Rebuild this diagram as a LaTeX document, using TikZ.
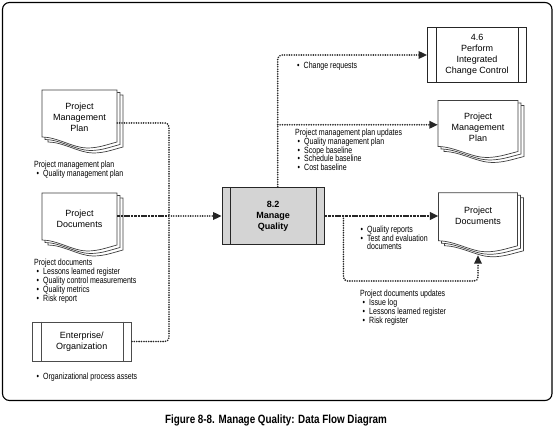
\documentclass[tikz,border=0pt]{standalone}
\usepackage{fontspec}
\setmainfont{Liberation Sans}
\newfontfamily\condfont{Liberation Sans}[FakeStretch=0.78]
\newfontfamily\capfont{Liberation Sans}[FakeStretch=0.82]
\usetikzlibrary{arrows.meta,calc}
\newcommand\lblfont{\condfont\fontsize{9}{8.9}\selectfont\lineskiplimit=-6pt\relax}
\newcommand\bul{\hspace*{2.5pt}\makebox[6.5pt][l]{\textbullet}}
\newcommand\ind{\hspace*{9pt}}
\newcommand\docpage[4]{%
  \filldraw[docline] ({#1},{#2+#4-11}) -- ({#1},{#2}) -- ({#1+#3},{#2}) -- ({#1+#3},{#2+#4-6})
    .. controls ({#1+0.85*#3},{#2+#4-3}) and ({#1+0.75*#3},{#2+#4}) .. ({#1+0.6*#3},{#2+#4})
    .. controls ({#1+0.42*#3},{#2+#4}) and ({#1+0.2*#3},{#2+#4-11}) .. ({#1},{#2+#4-11}) -- cycle;}
\newcommand\docstack[4]{\docpage{#1+6}{#2+5}{#3}{#4}\docpage{#1+3}{#2+2.5}{#3}{#4}\docpage{#1}{#2}{#3}{#4}}
\begin{document}
\begin{tikzpicture}[x=1pt,y=-1pt,
  docline/.style={draw=black!75, fill=white, line width=0.7pt},
  docnode/.style={minimum height=40pt, inner sep=0pt, align=center, font=\fontsize{9}{11}\selectfont},
  procbox/.style={draw=black!85, line width=0.8pt, inner sep=0pt, align=center, font=\fontsize{9}{11}\selectfont},
  flow/.style={draw=black!85, line width=1.8pt, dash pattern=on 0pt off 2.4pt, line cap=round, rounded corners=4pt},
  heavy/.style={draw=black!85, line width=2.6pt, dash pattern=on 2.6pt off 0.8pt},
  arrowend/.style={-{Triangle[length=8.5pt,width=7.5pt]}},
  lbl/.style={font=\lblfont, align=left, inner sep=0pt, anchor=north west},
]
\useasboundingbox (0,0) rectangle (554,435);
\fill[white] (0,0) rectangle (554,435);
\draw[line width=1.1pt, rounded corners=7pt] (2.5,2.5) rectangle (552,400.5);

% documents
\docstack{42}{90}{75}{58}
\docstack{42}{193}{75}{58}
\docstack{438}{100.5}{80}{57}
\docstack{438.5}{192.8}{79}{59}

\node[docnode, minimum width=75pt] (pmpin) at (79.5,117) {Project\\Management\\Plan};
\node[docnode, minimum width=75pt] (pdin) at (79.5,219) {Project\\Documents};
\node[docnode, minimum width=80pt] (pmpout) at (478,127.5) {Project\\Management\\Plan};
\node[docnode, minimum width=79pt] (pdout) at (478,216) {Project\\Documents};

% process boxes
\node[procbox, fill=black!17, minimum width=102.4pt, minimum height=57.6pt, font=\bfseries\fontsize{9}{11}\selectfont] (mq) at (273.2,216) {8.2\\Manage\\Quality};
\draw[black!85, line width=0.8pt] ([xshift=9pt]mq.north west) -- ([xshift=9pt]mq.south west)
  ([xshift=-8.4pt]mq.north east) -- ([xshift=-8.4pt]mq.south east);
\node[procbox, minimum width=99pt, minimum height=55pt] (p46) at (477,55) {4.6\\Perform\\Integrated\\Change Control};
\draw[black!85, line width=0.8pt] ([xshift=9.3pt]p46.north west) -- ([xshift=9.3pt]p46.south west)
  ([xshift=-8.2pt]p46.north east) -- ([xshift=-8.2pt]p46.south east);
\node[procbox, draw=black!70, minimum width=99.5pt, minimum height=39pt] (ent) at (81.75,341.5) {Enterprise/\\Organization};
\draw[black!70, line width=0.8pt] ([xshift=9.7pt]ent.north west) -- ([xshift=9.7pt]ent.south west)
  ([xshift=-9pt]ent.north east) -- ([xshift=-9pt]ent.south east);

% input connectors
\coordinate (jin) at (169,216);
\draw[flow] ($(pmpin.east)+(0,6)$) -| (jin);
\draw[flow] (ent.east) -| (jin);
\draw[heavy] ($(pdin.east)+(0,-3)$) -- (jin);
\draw[flow,arrowend] (jin) -- (mq.west);

% output connectors
\coordinate (bus) at ($(mq.north)+(4.5,0)$);
\draw[flow,arrowend] (bus) |- (p46.west);
\draw[flow,arrowend] (bus |- 0,124.8) -- ($(pmpout.west)+(0,-2.7)$);
\draw[heavy,arrowend] (mq.east) -- (mq.east -| pdout.west);
\coordinate (br) at ($(mq.east)+(18.6,0)$);
\draw[flow,arrowend] (br) -- ++(0,65) -| ($(pdout.south)+(0,19)$);

% labels
\node[lbl] (l1) at (34,160.7) {Project management plan\\\bul Quality management plan};
\node[lbl] (l2) at (34,258.7) {Project documents\\\bul Lessons learned register\\\bul Quality control measurements\\\bul Quality metrics\\\bul Risk report};
\node[lbl] (l3) at (34,372.7) {\bul Organizational process assets};
\node[lbl] (l4) at (294.5,62) {\bul Change requests};
\node[lbl] (l5) at (295,128.5) {Project management plan updates\\\bul Quality management plan\\\bul Scope baseline\\\bul Schedule baseline\\\bul Cost baseline};
\node[lbl] (l6) at (358,225.4) {\bul Quality reports\\\bul Test and evaluation\\\ind documents};
\node[lbl] (l7) at (360,289.7) {Project documents updates\\\bul Issue log\\\bul Lessons learned register\\\bul Risk register};

\node[font=\capfont\bfseries\fontsize{12}{14}\selectfont, inner sep=0pt] (cap) at (276,420) {Figure 8-8. Manage Quality: Data Flow Diagram};
\end{tikzpicture}
\end{document}
